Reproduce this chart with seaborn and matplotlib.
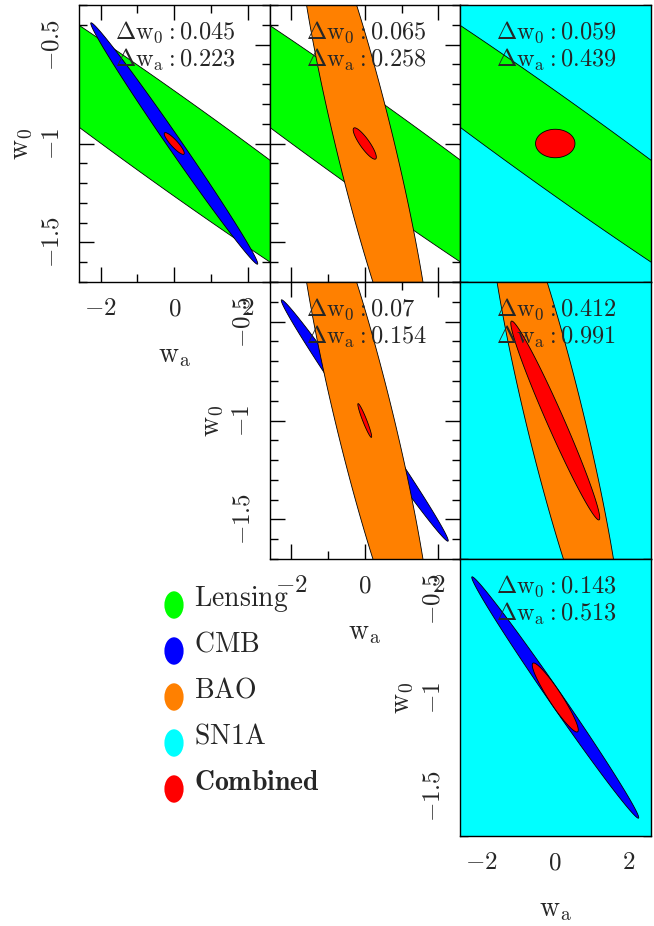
import numpy as np
import matplotlib
matplotlib.use("Agg")
import matplotlib.pyplot as plt
from matplotlib.path import Path
from matplotlib.ticker import MultipleLocator, FuncFormatter
import seaborn as sns


sns.set_theme(style="ticks")
plt.rcParams['mathtext.fontset'] = 'cm'
plt.rcParams['font.family'] = ['DejaVu Serif']


# single probe contours in (wa, w0): half extents + correlation
probes = ['Lensing', 'CMB', 'BAO', 'SN1A']
probe_colors = ['#00ff00', '#0000ff', '#ff8000', '#00ffff']
sig_wa = [10.0, 2.27, 1.85, 8.0]
sig_w0 = [1.34, 0.61, 1.29, 3.0]
rho = [-0.980, -0.995, -0.899, 0.0]
draw_order = ['SN1A', 'Lensing', 'CMB', 'BAO']

# panels (row, col) -> pair of probes + combined errors
panel_rows = [0, 0, 0, 1, 1, 2]
panel_cols = [0, 1, 2, 1, 2, 2]
panel_pairs = [('Lensing', 'CMB'), ('Lensing', 'BAO'), ('Lensing', 'SN1A'),
               ('CMB', 'BAO'), ('BAO', 'SN1A'), ('CMB', 'SN1A')]
delta_w0 = [0.045, 0.065, 0.059, 0.07, 0.412, 0.143]
delta_wa = [0.223, 0.258, 0.439, 0.154, 0.991, 0.513]
combo_rho = [-0.89, -0.87, 0.0, -0.95, -0.978, -0.94]
contour_scale = 1.22

fid_wa, fid_w0 = 0.0, -1.0

legend_labels = ['Lensing', 'CMB', 'BAO', 'SN1A', 'Combined']
legend_colors = probe_colors + ['#ff0000']

#-----------------------------------------

t = np.linspace(0, 2*np.pi, 600)


def ellipse(sa, s0, r):
    cov = np.array([[sa**2, r*sa*s0], [r*sa*s0, s0**2]])
    L = np.linalg.cholesky(cov)
    pts = L @ np.vstack([np.cos(t), np.sin(t)])
    return fid_wa + pts[0], fid_w0 + pts[1]


tick_fmt = FuncFormatter(lambda v, pos: f'${v + 0:g}$')

W, H = 654, 926
fig = plt.figure(figsize=(W/100, H/100), dpi=100)

col_left = [79, 269.5, 460]
row_top = [5, 282, 559]
pw, ph = 190.5, 277

for k in range(len(panel_pairs)):
    r, c = panel_rows[k], panel_cols[k]
    ax = fig.add_axes([col_left[c]/W, 1 - (row_top[r] + ph)/H, pw/W, ph/H])
    pair = panel_pairs[k]

    for p in draw_order:
        if p in pair:
            i = probes.index(p)
            x, y = ellipse(sig_wa[i], sig_w0[i], rho[i])
            ax.fill(x, y, facecolor=probe_colors[i], edgecolor='black', lw=0.6)

    # combined constraint
    x, y = ellipse(contour_scale*delta_wa[k], contour_scale*delta_w0[k], combo_rho[k])
    ax.fill(x, y, facecolor='#ff0000', edgecolor='black', lw=0.6)

    ax.text(0.19, 0.90, r'$\Delta\mathrm{w}_0{:}%s$' % f'{delta_w0[k]:g}',
            transform=ax.transAxes, va='center', ha='left', fontsize=17.5)
    ax.text(0.19, 0.80, r'$\Delta\mathrm{w}_\mathrm{a}{:}%s$' % f'{delta_wa[k]:g}',
            transform=ax.transAxes, va='center', ha='left', fontsize=17.5)

    ax.set_xlim(-2.59, 2.59)
    ax.set_ylim(-1.7, -0.3)
    ax.xaxis.set_major_locator(MultipleLocator(2))
    ax.xaxis.set_minor_locator(MultipleLocator(1))
    ax.yaxis.set_major_locator(MultipleLocator(0.5))
    ax.yaxis.set_minor_locator(MultipleLocator(0.1))
    ax.xaxis.set_major_formatter(tick_fmt)
    ax.yaxis.set_major_formatter(tick_fmt)

    diag = (r == c)
    ax.tick_params(which='both', direction='in', top=True, right=True,
                   color='black', width=1, labelsize=18, pad=11,
                   labelleft=diag, labelbottom=diag)
    ax.tick_params(which='major', length=11)
    ax.tick_params(which='minor', length=6)
    for s in ax.spines.values():
        s.set_color('black')
        s.set_linewidth(1)

    # SN1A fill hides the ticks
    if 'SN1A' in pair:
        ax.set_axisbelow(True)

    if diag:
        plt.setp(ax.get_yticklabels(), rotation=90, va='center')
        ax.set_xlabel(r'$\mathrm{w}_\mathrm{a}$', fontsize=20)
        ax.set_ylabel(r'$\mathrm{w}_0$', fontsize=20)
        ax.xaxis.set_label_coords(0.5, -0.215)
        ax.yaxis.set_label_coords(-0.23, 0.5)


# legend block -----------------------------

circ = Path.unit_circle()
ell_marker = Path(circ.vertices * np.array([0.7, 1.0]), circ.codes)

lax = fig.add_axes([144/W, 1 - 812/H, 220/W, 230/H])
sns.scatterplot(x=np.zeros(len(legend_labels)), y=np.arange(len(legend_labels)),
                hue=legend_labels, palette=legend_colors, marker=ell_marker,
                s=390, linewidth=0, legend=False, ax=lax, clip_on=False)
for i, lab in enumerate(legend_labels):
    txt = r'$\mathbf{%s}$' % lab if lab == 'Combined' else r'$\mathrm{%s}$' % lab
    lax.text(1.0, i + 0.02, txt, va='baseline', ha='left', fontsize=20)
lax.set_xlim(-1.5, 9.5)
lax.set_ylim(4.5, -0.5)
lax.axis('off')

fig.savefig("out.png", dpi=100)
